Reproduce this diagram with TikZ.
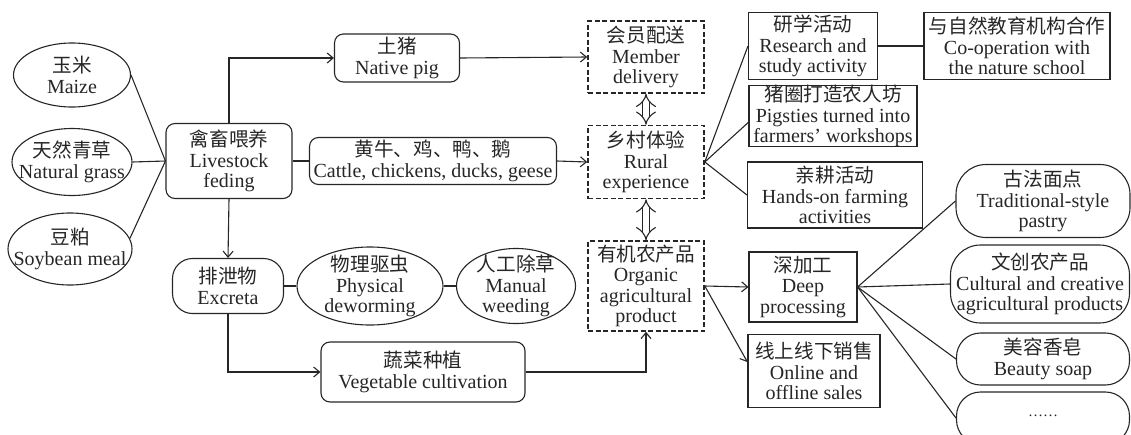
\documentclass[tikz,border=0pt]{standalone}
\usepackage{fontspec}
\setmainfont{Liberation Serif}
\newfontfamily\cjk[Scale=0.98]{Noto Sans CJK SC}
\newcommand\zh[1]{{\cjk #1}}
\usetikzlibrary{arrows.meta,shapes.geometric,calc}
\definecolor{ink}{gray}{0.15}
\begin{document}
\begin{tikzpicture}[x=1pt,y=-1pt,
  every node/.style={align=center, inner sep=0pt, font=\fontsize{20}{20.5}\selectfont, text=ink},
  ln/.style={line width=1.1pt, draw=ink},
  arr/.style={ln, -{Straight Barb[length=6pt,width=10pt]}},
  ell/.style={ellipse, ln},
  lbl/.style={align=center, inner sep=0pt, font=\fontsize{20}{20.5}\selectfont, text=ink},
  rbox/.style={rectangle, ln, rounded corners=9pt},
  sbox/.style={rectangle, ln},
  dbox/.style={rectangle, draw=ink, line width=1.6pt, dash pattern=on 5pt off 2.5pt},
  dbl/.style={draw=ink, double=white, double distance=6pt, line width=1.1pt, {Implies[length=7pt,width=17pt]}-{Implies[length=7pt,width=17pt]}}
]
\useasboundingbox (0,0) rectangle (1131,434);

% left ellipses
\node[ell, minimum width=117pt, minimum height=64pt, label={[lbl]center:{\zh{玉米}\\Maize}}] (maize) at (72,75) {};
\node[ell, minimum width=120pt, minimum height=67pt, label={[lbl]center:{\zh{天然青草}\\Natural grass}}] (grass) at (72,162) {};
\node[ell, minimum width=124pt, minimum height=72pt, label={[lbl]center:{\zh{豆粕}\\Soybean meal}}] (soy) at (70,249) {};

% livestock
\node[rbox, minimum width=126pt, minimum height=75pt] (feed) at (229,161) {\zh{禽畜喂养}\\Livestock\\feding};
\node[rbox, minimum width=125pt, minimum height=48pt] (pig) at (397,58) {\zh{土猪}\\Native pig};
\node[rbox, minimum width=247pt, minimum height=47pt] (cattle) at (433,161) {\zh{黄牛、鸡、鸭、鹅}\\Cattle, chickens, ducks, geese};
\node[rbox, rounded corners=20pt, minimum width=111pt, minimum height=55pt] (excreta) at (228,286) {\zh{排泄物}\\Excreta};
\node[ell, minimum width=146pt, minimum height=78pt, label={[lbl]center:{\zh{物理驱虫}\\Physical\\deworming}}] (phys) at (370,286) {};
\node[ell, minimum width=119pt, minimum height=75pt, label={[lbl]center:{\zh{人工除草}\\Manual\\weeding}}] (weed) at (516,286) {};
\node[rbox, minimum width=204pt, minimum height=60pt] (veg) at (423,372) {\zh{蔬菜种植}\\Vegetable cultivation};

% dashed hubs
\node[dbox, minimum width=116pt, minimum height=72pt] (member) at (646,57) {\zh{会员配送}\\Member\\delivery};
\node[dbox, minimum width=116pt, minimum height=73pt] (rural) at (646,162) {\zh{乡村体验}\\Rural\\experience};
\node[dbox, minimum width=116pt, minimum height=90pt] (organic) at (646,286) {\zh{有机农产品}\\Organic\\agricultural\\product};

% right boxes
\node[sbox, minimum width=129pt, minimum height=67pt] (research) at (813,46) {\zh{研学活动}\\Research and\\study activity};
\node[sbox, minimum width=186pt, minimum height=67pt] (coop) at (1017,46) {\zh{与自然教育机构合作}\\Co-operation with\\the nature school};
\node[sbox, minimum width=168pt, minimum height=61pt] (pigsty) at (833,116) {\zh{猪圈打造农人坊}\\Pigsties turned into\\farmers’ workshops};
\node[sbox, minimum width=175pt, minimum height=66pt] (handson) at (835,195) {\zh{亲耕活动}\\Hands-on farming\\activities};
\node[sbox, minimum width=108pt, minimum height=70pt] (deep) at (803,287) {\zh{深加工}\\Deep\\processing};
\node[sbox, minimum width=132pt, minimum height=73pt] (online) at (814,371) {\zh{线上线下销售}\\Online and\\offline sales};

\node[rbox, rounded corners=30pt, minimum width=174pt, minimum height=73pt] (pastry) at (1043,201) {\zh{古法面点}\\Traditional-style\\pastry};
\node[rbox, rounded corners=30pt, minimum width=179pt, minimum height=78pt] (cult) at (1040,284) {\zh{文创农产品}\\Cultural and creative\\agricultural products};
\node[rbox, rounded corners=24pt, minimum width=173pt, minimum height=52pt] (soap) at (1043,359) {\zh{美容香皂}\\Beauty soap};
\node[rbox, rounded corners=24pt, minimum width=173pt, minimum height=52pt] (more) at (1043,418) {\raisebox{4pt}{\fontsize{15}{15}\selectfont ……}};

% connectors
\draw[ln] (maize.east) -- (feed.west);
\draw[ln] (grass.east) -- (feed.west);
\draw[ln] (soy.10) -- (feed.west);
\draw[arr] (feed.north) |- (pig.west);
\draw[ln] (feed.east) -- (cattle.west);
\draw[arr] (feed.south) -- (excreta.north);
\draw[ln] (excreta.east) -- (phys.west);
\draw[ln] (phys.east) -- (weed.west);
\draw[arr] (excreta.south) |- (veg.west);
\draw[arr] (veg.east) -| (organic.south);
\draw[arr] (pig.east) -- (member.west);
\draw[arr] (cattle.east) -- (rural.west);
\draw[dbl] (member.south) -- (rural.north);
\draw[dbl] (rural.south) -- (organic.north);
\draw[ln] (rural.east) -- (research.west);
\draw[ln] (rural.east) -- ($(pigsty.north west)!0.6!(pigsty.south west)$);
\draw[ln] (rural.east) -- (handson.west);
\draw[ln] (research.east) -- (coop.west);
\draw[arr] (organic.east) -- (deep.west);
\draw[arr] (organic.east) -- ($(online.north west)!0.38!(online.south west)$);
\draw[ln] (deep.east) -- (pastry.west);
\draw[ln] (deep.east) -- (cult.west);
\draw[ln] (deep.east) -- (soap.west);
\draw[ln] (deep.east) -- (more.west);
\end{tikzpicture}
\end{document}
